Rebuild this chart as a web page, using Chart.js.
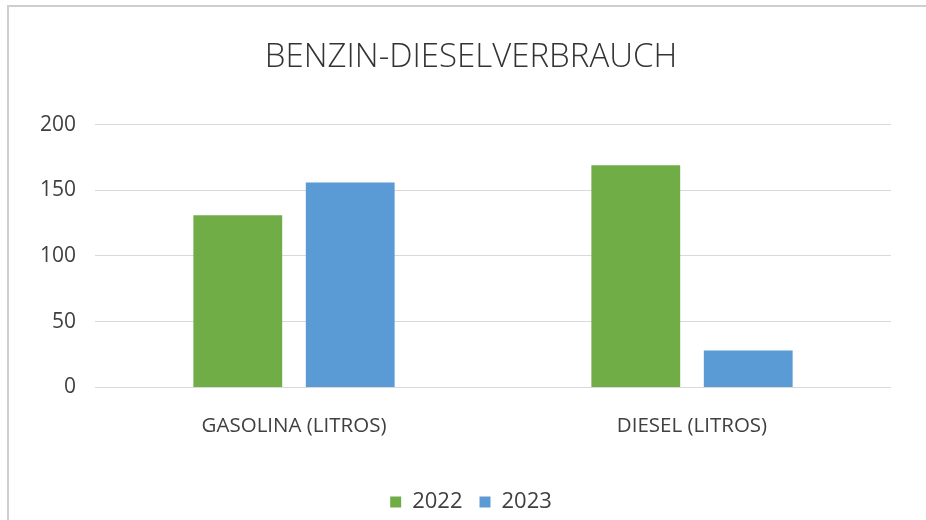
<!DOCTYPE html>
<html>
<head>
<meta charset="utf-8">
<script src="https://cdn.jsdelivr.net/npm/chart.js@4"></script>
<style>
    html, body { margin: 0; background: #fff; overflow: hidden; }
    #wrap { position: relative; width: 926px; height: 520px; overflow: hidden; }
    #frame { position: absolute; left: 7px; top: 5px; width: 1400px; height: 900px; border: 2px solid #cfcfcf; box-sizing: border-box; }
    #chart { position: absolute; left: 0; top: 0; }
</style>
</head>
<body>
<div id="wrap">
    <div id="frame"></div>
    <canvas id="chart" width="926" height="520"></canvas>
</div>
<script>
const categories = ['GASOLINA (LITROS)', 'DIESEL (LITROS)'];
const seriesNames = ['2022', '2023'];
const values2022 = [131, 169];
const values2023 = [156, 28];
const seriesColors = ['#70AD47', '#5B9BD5'];

const textColor = '#404040';
const fontFamily = "'Open Sans', 'Noto Sans', sans-serif";

const ctx = document.getElementById('chart').getContext('2d');

new Chart(ctx, {
    type: 'bar',
    data: {
        labels: categories,
        datasets: [
            { label: seriesNames[0], data: values2022, backgroundColor: seriesColors[0], borderWidth: 0 },
            { label: seriesNames[1], data: values2023, backgroundColor: seriesColors[1], borderWidth: 0 }
        ]
    },
    options: {
        responsive: false,
        animation: false,
        categoryPercentage: 0.565,
        barPercentage: 0.79,
        // left padding keeps title and legend centred like the original
        layout: { padding: { left: 16, right: 0, top: 0, bottom: -3 } },
        scales: {
            y: {
                min: 0,
                max: 200,
                ticks: { stepSize: 50, padding: 19, color: textColor, font: { family: fontFamily, size: 21 } },
                grid: { color: '#d9d9d9', lineWidth: 1, drawTicks: false },
                border: { display: false },
                afterFit: (scale) => { scale.width = 79; }
            },
            yRight: {
                position: 'right',
                display: true,
                ticks: { display: false },
                grid: { display: false, drawTicks: false },
                border: { display: false },
                afterFit: (scale) => { scale.width = 35; }
            },
            x: {
                ticks: { padding: 26, color: textColor, font: { family: fontFamily, size: 20.5 } },
                grid: { display: false, drawTicks: false },
                border: { display: false },
                afterFit: (scale) => { scale.height += 10; }
            }
        },
        plugins: {
            title: {
                display: true,
                text: 'BENZIN-DIESELVERBRAUCH',
                color: '#333333',
                font: { family: fontFamily, size: 33, weight: '300' },
                padding: { top: 38, bottom: 47 }
            },
            legend: {
                position: 'bottom',
                labels: {
                    boxWidth: 11,
                    boxHeight: 11,
                    padding: 17,
                    color: textColor,
                    font: { family: fontFamily, size: 22 }
                }
            },
            tooltip: { enabled: false }
        }
    }
});
</script>
</body>
</html>
